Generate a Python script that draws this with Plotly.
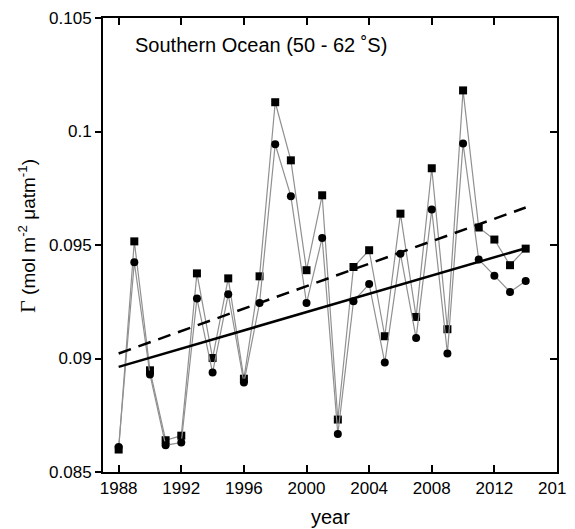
import plotly.graph_objects as go

years = list(range(1988, 2015))
gamma_sq = [0.08599, 0.09516, 0.08948, 0.08640, 0.08660, 0.09375, 0.09002, 0.09353, 0.08911,
            0.09362, 0.10129, 0.09873, 0.09389, 0.09719, 0.08731, 0.09403, 0.09477, 0.09098,
            0.09638, 0.09183, 0.09838, 0.09129, 0.10181, 0.09577, 0.09524, 0.09411, 0.09484]
gamma_ci = [0.08610, 0.09424, 0.08930, 0.08618, 0.08630, 0.09264, 0.08938, 0.09283, 0.08894,
            0.09244, 0.09944, 0.09715, 0.09244, 0.09531, 0.08667, 0.09252, 0.09328, 0.08982,
            0.09462, 0.09090, 0.09656, 0.09022, 0.09947, 0.09436, 0.09365, 0.09293, 0.09341]
trend_x = [1988, 2014]
trend_solid = [0.08963, 0.09486]
trend_dash = [0.09022, 0.09665]

xticks = [1988, 1992, 1996, 2000, 2004, 2008, 2012, 2016]
yticks = [0.085, 0.09, 0.095, 0.1, 0.105]
ytick_text = ["0.085", "0.09", "0.095", "0.1", "0.105"]

fig = go.Figure()
fig.add_trace(go.Scatter(x=years, y=gamma_sq, mode="lines+markers",
                         line=dict(color="#909090", width=1.2),
                         marker=dict(symbol="square", size=8, color="black")))
fig.add_trace(go.Scatter(x=years, y=gamma_ci, mode="lines+markers",
                         line=dict(color="#909090", width=1.2),
                         marker=dict(symbol="circle", size=8, color="black")))
fig.add_trace(go.Scatter(x=trend_x, y=trend_dash, mode="lines",
                         line=dict(color="black", width=2.5, dash="13px,8px")))
fig.add_trace(go.Scatter(x=trend_x, y=trend_solid, mode="lines",
                         line=dict(color="black", width=2.5)))

axis_font = dict(family="Liberation Sans, Arial, sans-serif", size=17, color="black")
fig.update_layout(
    width=575, height=521,
    margin=dict(l=95, r=26, t=10, b=57),
    plot_bgcolor="white", paper_bgcolor="white",
    showlegend=False,
    font=axis_font,
    xaxis=dict(range=[1987, 2016], tickvals=xticks, ticks="inside", ticklen=7,
               tickwidth=1.5, tickcolor="black", showline=True, linecolor="black",
               linewidth=2, mirror="ticks", showgrid=False, zeroline=False,
               tickfont=axis_font, automargin=False, ticklabeloverflow="allow"),
    yaxis=dict(range=[0.085, 0.105], tickvals=yticks, ticktext=ytick_text,
               ticks="outside", ticklen=6, tickwidth=1.5, tickcolor="black",
               showline=True, linecolor="black", linewidth=2, mirror=True,
               showgrid=False, zeroline=False, tickfont=axis_font, automargin=False,
               ticklabeloverflow="allow"),
    yaxis2=dict(range=[0.085, 0.105], tickvals=yticks, overlaying="y",
                side="right", ticks="inside", ticklen=7, tickwidth=1.5,
                tickcolor="black", showticklabels=False, showgrid=False,
                zeroline=False, showline=False, automargin=False),
    annotations=[
        dict(text="Southern Ocean (50 - 62 ˚S)", xref="paper", yref="paper",
             x=0.065, y=0.94, xanchor="left", yanchor="middle", showarrow=False,
             font=dict(family="Liberation Sans, Arial, sans-serif", size=20, color="black")),
        dict(text="year", xref="paper", yref="paper", x=0.5, y=0, yshift=-45,
             xanchor="center", yanchor="middle", showarrow=False,
             font=dict(family="Liberation Sans, Arial, sans-serif", size=20, color="black")),
        dict(text="<span style='font-family:Liberation Serif;font-size:22px;color:black'>Γ</span> (mol m<sup>-2</sup> μatm<sup>-1</sup>)",
             xref="paper", yref="paper", x=0, xshift=-75, y=0.52,
             xanchor="center", yanchor="middle", textangle=-90, showarrow=False,
             font=dict(family="Liberation Sans, Arial, sans-serif", size=19, color="black")),
    ],
)
fig.add_trace(go.Scatter(x=[None], y=[None], yaxis="y2", showlegend=False))

fig.write_html("out.html")
